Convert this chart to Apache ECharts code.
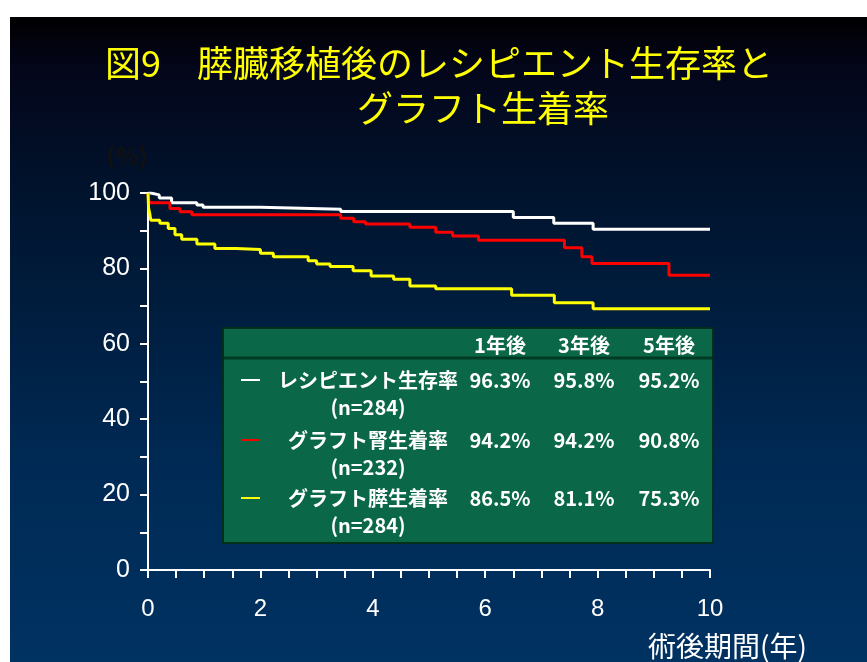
<!DOCTYPE html>
<html>
<head>
<meta charset="utf-8">
<script src="https://cdn.jsdelivr.net/npm/echarts@6/dist/echarts.min.js"></script>
<style>
html,body{margin:0;padding:0;background:#ffffff;width:867px;height:662px;overflow:hidden;}
#chart{position:absolute;left:10px;top:17px;width:857px;height:645px;}
</style>
</head>
<body>
<div id="chart"></div>
<script>
// ---- data ----
const titleLine1 = '図9　膵臓移植後のレシピエント生存率と';
const titleLine2 = 'グラフト生着率';
const yAxisName = '(%)';
const xAxisName = '術後期間(年)';

const recipientTimes = [0, 0.05, 0.2, 0.42, 0.87, 0.98, 2.0, 3.43, 6.5, 7.22, 7.92, 10];
const recipientSurvival = [100, 99.5, 98.7, 97.4, 96.8, 96.2, 95.7, 95.1, 93.5, 92.0, 90.4, 90.4];

const kidneyTimes = [0, 0.02, 0.39, 0.57, 0.78, 3.43, 3.66, 3.87, 4.66, 5.12, 5.42, 5.88, 7.41, 7.72, 7.9, 9.27, 10];
const kidneyGraft = [100, 97.4, 95.9, 95.0, 94.2, 93.3, 92.4, 91.8, 90.9, 89.6, 88.6, 87.5, 85.5, 83.1, 81.3, 78.2, 78.2];

const pancreasTimes = [0, 0.01, 0.03, 0.05, 0.21, 0.36, 0.48, 0.6, 0.87, 1.19, 1.57, 2.0, 2.23, 2.85, 3.0, 3.24, 3.65, 3.97, 4.37, 4.66, 5.12, 6.47, 7.23, 7.92, 10];
const pancreasGraft = [100, 96.0, 94.6, 92.8, 92.0, 90.6, 88.9, 87.7, 86.5, 85.3, 85.0, 84.0, 83.1, 82.0, 81.2, 80.5, 79.4, 78.0, 77.1, 75.3, 74.6, 72.9, 70.9, 69.3, 69.3];

const tableHeaders = ['1年後', '3年後', '5年後'];
const rowLabels = ['レシピエント生存率', 'グラフト腎生着率', 'グラフト膵生着率'];
const rowCounts = ['(n=284)', '(n=232)', '(n=284)'];
const rowValues = [
  ['96.3%', '95.8%', '95.2%'],
  ['94.2%', '94.2%', '90.8%'],
  ['86.5%', '81.1%', '75.3%']
];
const seriesColors = ['#ffffff', '#ff0000', '#ffff00'];

// ---- build ----
function pairs(t, v) { return t.map((x, i) => [x, v[i]]); }
const seriesData = [
  pairs(recipientTimes, recipientSurvival),
  pairs(kidneyTimes, kidneyGraft),
  pairs(pancreasTimes, pancreasGraft)
];

const JP = '"Noto Sans CJK JP", "Noto Sans", sans-serif';
const tableFont = {fill: '#ffffff', font: 'bold 20px "Noto Sans CJK JP", "Noto Sans", sans-serif', textAlign: 'center', textVerticalAlign: 'middle'};

const graphics = [];
// table box
graphics.push({type: 'rect', shape: {x: 213, y: 311, width: 490, height: 215}, style: {fill: '#0a6848', stroke: '#00301c', lineWidth: 2}, z: 10});
graphics.push({type: 'line', shape: {x1: 214, y1: 341, x2: 702, y2: 341}, style: {stroke: '#003a24', lineWidth: 3}, z: 11});
const colX = [490, 574, 659];
tableHeaders.forEach((h, i) => {
  graphics.push({type: 'text', x: colX[i], y: 328, style: Object.assign({}, tableFont, {text: h}), z: 12});
});
const rowY = [363, 423, 481];
rowLabels.forEach((lab, r) => {
  graphics.push({type: 'line', shape: {x1: 231, y1: rowY[r], x2: 250, y2: rowY[r]}, style: {stroke: seriesColors[r], lineWidth: 2}, z: 12});
  graphics.push({type: 'text', x: 358, y: rowY[r], style: Object.assign({}, tableFont, {text: lab}), z: 12});
  graphics.push({type: 'text', x: 358, y: rowY[r] + 27, style: Object.assign({}, tableFont, {text: rowCounts[r]}), z: 12});
  rowValues[r].forEach((v, c) => {
    graphics.push({type: 'text', x: colX[c], y: rowY[r], style: Object.assign({}, tableFont, {text: v}), z: 12});
  });
});
// axis names
graphics.push({type: 'text', x: 117, y: 139, style: {text: yAxisName, fill: '#111111', font: 'bold 24px "Noto Sans CJK JP", sans-serif', textAlign: 'center', textVerticalAlign: 'middle'}});
graphics.push({type: 'text', x: 797, y: 629, style: {text: xAxisName, fill: '#ffffff', font: '28px "Noto Sans CJK JP", sans-serif', textAlign: 'right', textVerticalAlign: 'middle'}});

const chart = echarts.init(document.getElementById('chart'), null, {renderer: 'canvas'});
chart.setOption({
  animation: false,
  backgroundColor: {
    type: 'linear', x: 0, y: 0, x2: 0, y2: 1,
    colorStops: [
      {offset: 0, color: '#000000'},
      {offset: 0.08, color: '#04061a'},
      {offset: 0.3, color: '#001530'},
      {offset: 0.7, color: '#002a55'},
      {offset: 1, color: '#003262'}
    ]
  },
  title: [
    {text: titleLine1, left: 95, top: 28, padding: 0, textStyle: {color: '#ffff00', fontSize: 36, fontWeight: 'normal', fontFamily: JP}},
    {text: titleLine2, left: 347, top: 73, padding: 0, textStyle: {color: '#ffff00', fontSize: 36, fontWeight: 'normal', fontFamily: JP}}
  ],
  grid: {left: 138, right: 157, top: 176, bottom: 92, containLabel: false},
  xAxis: {
    type: 'value', min: 0, max: 10, interval: 2,
    axisLine: {show: true, lineStyle: {color: '#ffffff', width: 2}},
    axisTick: {show: true, inside: false, length: 8, lineStyle: {color: '#ffffff', width: 2}},
    minorTick: {show: true, splitNumber: 4, length: 8, lineStyle: {color: '#ffffff', width: 2}},
    splitLine: {show: false},
    axisLabel: {color: '#ffffff', fontSize: 24, fontFamily: 'Liberation Sans, Arial, sans-serif', margin: 27}
  },
  yAxis: {
    type: 'value', min: 0, max: 100, interval: 20,
    axisLine: {show: true, lineStyle: {color: '#ffffff', width: 2}},
    axisTick: {show: true, inside: false, length: 8, lineStyle: {color: '#ffffff', width: 2}},
    minorTick: {show: true, splitNumber: 2, length: 8, lineStyle: {color: '#ffffff', width: 2}},
    splitLine: {show: false},
    axisLabel: {color: '#ffffff', fontSize: 25, fontFamily: 'Liberation Sans, Arial, sans-serif', margin: 18}
  },
  series: seriesData.map((d, i) => ({
    type: 'line', step: 'end', data: d, showSymbol: false, symbol: 'none',
    lineStyle: {color: seriesColors[i], width: 3}, z: 3 + i
  })),
  graphic: graphics
});
</script>
</body>
</html>
